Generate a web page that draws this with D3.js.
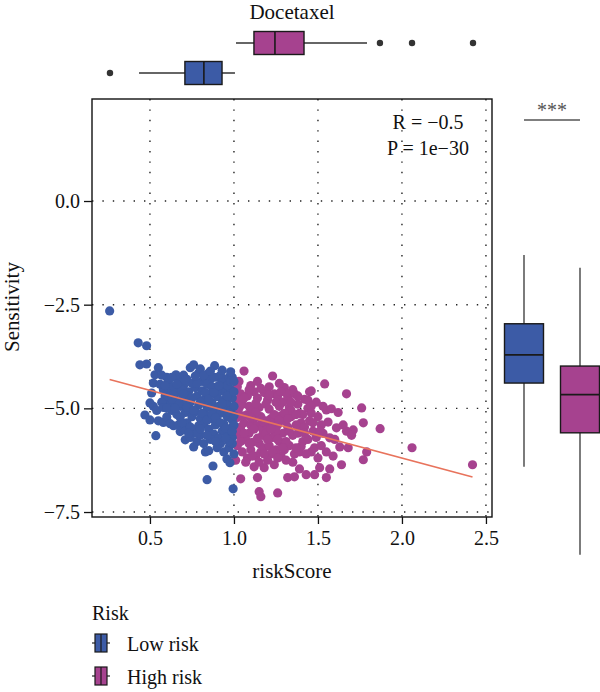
<!DOCTYPE html>
<html>
<head>
<meta charset="utf-8">
<script src="https://cdn.jsdelivr.net/npm/d3@7"></script>
<style>
  body { margin: 0; background: #fff; }
  svg text { font-family: "Liberation Serif", "DejaVu Serif", serif; fill: #111; }
</style>
</head>
<body>
<div id="chart"></div>
<script>
// ---- data ----
var drugName = "Docetaxel";
var riskGroups = ["Low risk", "High risk"];
var groupColors = ["#3C5BA6", "#A6428F"];

// scatter points [riskScore, sensitivity]
var lowRiskPoints = [
  [0.26,-2.65],[0.43,-3.42],[0.48,-3.49],[0.44,-3.95],[0.48,-3.93],
  [0.47,-5.16],[0.50,-5.28],[0.535,-5.66],[0.55,-5.30],[0.58,-5.34],
  [0.52,-4.95],[0.50,-4.87],[0.51,-4.63],[0.52,-4.39],[0.53,-4.19],[0.55,-4.02],[0.60,-4.25],
  [0.62,-4.55],[0.61,-4.80],[0.63,-5.05],[0.60,-5.21],[0.62,-5.37],[0.64,-5.42],[0.68,-5.56],[0.70,-5.50],
  [0.71,-5.76],[0.76,-5.93],[0.74,-5.70],[0.78,-5.80],[0.80,-5.65],[0.83,-6.05],[0.85,-6.02],[0.875,-6.39],
  [0.84,-6.72],[0.995,-6.94],[0.976,-6.31],[0.958,-6.22],[0.94,-6.05],[0.97,-5.95],[0.92,-5.85],
  [0.67,-4.35],[0.655,-4.19],[0.70,-4.20],[0.72,-4.30],[0.74,-4.02],[0.76,-3.95],[0.79,-4.15],[0.81,-4.35],
  [0.83,-4.25],[0.86,-4.30],[0.885,-3.97],[0.90,-4.25],[0.92,-4.20],[0.95,-4.32],[0.97,-4.25],[0.99,-4.25],
  [0.94,-4.45],[0.89,-4.50],[0.61,-4.36],
  [0.66,-4.62],[0.69,-4.78],[0.68,-4.95],[0.71,-5.10],[0.70,-4.45],[0.73,-4.60],[0.74,-4.85],[0.73,-5.02],
  [0.75,-5.20],[0.72,-5.35],[0.77,-4.50],[0.78,-4.70],[0.79,-4.92],[0.77,-5.08],[0.80,-5.25],[0.79,-5.42],
  [0.76,-5.52],[0.81,-4.58],[0.82,-4.80],[0.84,-4.98],[0.83,-5.15],[0.82,-5.38],[0.85,-5.50],[0.84,-4.42],
  [0.86,-4.65],[0.87,-4.88],[0.88,-5.05],[0.86,-5.25],[0.89,-5.40],[0.88,-5.62],[0.87,-4.48],
  [0.90,-4.72],[0.91,-4.95],[0.92,-5.12],[0.90,-5.30],[0.93,-5.55],[0.91,-5.72],[0.92,-4.58],
  [0.94,-4.80],[0.95,-5.00],[0.96,-5.20],[0.94,-5.38],[0.97,-5.62],[0.95,-4.62],[0.96,-4.90],
  [0.98,-4.55],[0.99,-4.75],[0.98,-5.05],[0.99,-5.28],[0.98,-5.48],[0.99,-5.70],[1.00,-4.95],
  [1.00,-5.40],[0.99,-5.85],[1.00,-6.10],
  [0.59,-4.70],[0.62,-4.95],[0.64,-4.48],[0.57,-4.85],[0.54,-5.05],[0.66,-5.15],[0.67,-5.40],[0.63,-4.25],
  [0.69,-4.55],[0.71,-4.90],[0.75,-4.40],[0.80,-4.05],[0.83,-4.62],[0.85,-4.15],[0.88,-4.25],[0.93,-4.38],
  [0.96,-4.45],[0.58,-4.55],[0.65,-4.80],[0.72,-4.70],[0.78,-5.60],[0.82,-5.85],[0.86,-5.75],[0.90,-5.95],
  [0.56,-4.42],[0.58,-4.98],[0.60,-5.00],[0.64,-4.68],[0.67,-4.88],[0.68,-5.22],[0.70,-4.65],[0.72,-4.98],
  [0.74,-5.45],[0.75,-4.75],[0.76,-5.05],[0.78,-4.40],[0.80,-4.85],[0.81,-5.12],[0.82,-4.20],[0.84,-5.28],
  [0.85,-4.78],[0.87,-5.15],[0.88,-4.62],[0.89,-5.22],[0.91,-4.45],[0.92,-5.35],[0.93,-4.88],[0.95,-5.48],
  [0.96,-4.70],[0.97,-5.10],[0.98,-4.35],[1.00,-4.60],[1.00,-5.18],[0.99,-5.55],[0.97,-5.80],[0.95,-5.72],
  [0.89,-5.80],[0.84,-5.65],[0.80,-5.50],[0.73,-5.60],[0.69,-5.35],[0.65,-5.00],[0.63,-4.78],[0.59,-4.45],
  [0.57,-4.20],[0.66,-4.42],[0.71,-4.32],[0.77,-4.22],[0.86,-4.10],[0.93,-4.08],[0.98,-4.12],[1.00,-4.35]
];

var highRiskPoints = [
  [1.06,-4.10],[1.23,-4.22],[1.21,-4.48],[1.02,-4.48],[1.10,-4.45],[1.14,-4.35],[1.30,-4.50],[1.35,-4.55],
  [1.45,-4.60],[1.46,-4.58],[1.54,-4.41],[1.67,-4.65],[1.27,-4.40],[1.04,-4.65],
  [1.02,-4.80],[1.03,-5.00],[1.02,-5.22],[1.04,-5.45],[1.03,-5.65],[1.02,-5.90],[1.05,-6.05],[1.04,-6.70],
  [1.05,-4.90],[1.06,-5.35],[1.01,-5.55],[1.01,-6.25],
  [1.08,-4.70],[1.09,-4.95],[1.08,-5.15],[1.10,-5.40],[1.09,-5.60],[1.11,-5.82],[1.10,-6.00],[1.12,-6.41],
  [1.08,-6.20],[1.12,-4.60],[1.11,-5.05],[1.12,-5.25],
  [1.14,-4.75],[1.15,-4.98],[1.16,-5.20],[1.14,-5.42],[1.17,-5.65],[1.15,-5.85],[1.16,-6.05],[1.18,-6.43],
  [1.14,-6.67],[1.15,-7.01],[1.16,-7.13],[1.18,-4.62],[1.17,-5.50],[1.18,-5.95],
  [1.20,-4.80],[1.21,-5.02],[1.22,-5.25],[1.20,-5.45],[1.23,-5.70],[1.21,-5.90],[1.22,-6.10],[1.24,-6.36],
  [1.26,-7.04],[1.24,-4.65],[1.23,-5.35],[1.20,-6.25],
  [1.26,-4.70],[1.27,-4.95],[1.28,-5.18],[1.26,-5.40],[1.29,-5.60],[1.27,-5.80],[1.30,-6.00],[1.28,-6.15],
  [1.32,-6.67],[1.30,-5.30],[1.29,-4.85],
  [1.32,-4.72],[1.33,-4.98],[1.34,-5.20],[1.32,-5.45],[1.35,-5.65],[1.33,-5.90],[1.36,-6.10],[1.36,-6.65],
  [1.34,-5.05],[1.36,-4.65],
  [1.38,-4.90],[1.39,-5.12],[1.40,-5.35],[1.38,-5.60],[1.41,-5.80],[1.39,-6.05],[1.39,-6.46],[1.43,-6.60],
  [1.42,-4.78],[1.40,-5.50],
  [1.44,-5.00],[1.46,-5.11],[1.45,-5.30],[1.47,-5.55],[1.44,-5.75],[1.48,-5.95],[1.46,-6.05],[1.48,-6.60],
  [1.50,-5.20],[1.49,-4.85],
  [1.51,-6.43],[1.55,-6.67],[1.57,-6.46],[1.55,-5.04],[1.58,-5.01],[1.56,-5.33],[1.61,-5.47],[1.57,-5.71],
  [1.60,-5.75],[1.53,-5.60],[1.52,-5.90],[1.55,-6.05],[1.59,-6.15],[1.52,-5.40],[1.53,-4.95],
  [1.63,-5.93],[1.64,-6.36],[1.68,-5.95],[1.71,-5.52],[1.76,-4.99],[1.77,-5.35],[1.77,-6.24],[1.79,-6.05],
  [1.67,-5.55],[1.65,-5.40],[1.70,-5.65],[1.62,-5.10],
  [1.87,-5.49],[2.06,-5.95],[2.42,-6.36],
  [1.06,-4.75],[1.13,-5.10],[1.19,-5.30],[1.25,-5.55],[1.31,-5.80],[1.37,-5.40],[1.07,-5.75],[1.13,-6.15],
  [1.25,-6.00],[1.31,-4.62],[1.41,-5.15],[1.19,-4.90],
  [1.03,-4.35],[1.05,-5.18],[1.06,-5.60],[1.07,-6.30],[1.09,-4.55],[1.10,-5.22],[1.11,-6.15],[1.13,-4.88],
  [1.14,-5.72],[1.16,-4.52],[1.17,-5.32],[1.18,-6.10],[1.19,-5.60],[1.21,-4.68],[1.22,-5.50],[1.23,-6.05],
  [1.24,-5.15],[1.25,-4.85],[1.26,-5.75],[1.27,-5.28],[1.28,-4.60],[1.29,-5.95],[1.30,-5.12],[1.31,-6.25],
  [1.33,-5.55],[1.34,-4.85],[1.35,-6.30],[1.37,-5.15],[1.38,-4.70],[1.40,-5.92],[1.42,-5.45],[1.43,-6.10],
  [1.44,-4.80],[1.47,-5.35],[1.49,-5.70],[1.50,-6.20],[1.01,-5.08],[1.04,-5.80],[1.09,-5.85],[1.12,-5.50],
  [1.15,-6.30],[1.20,-5.75],[1.26,-6.20],[1.32,-5.25],[1.37,-5.95],[1.42,-5.60],[1.46,-4.95],[1.51,-5.55]
];

// fitted regression line
var fitIntercept = -4.02;
var fitSlope = -1.09;
var corrLabels = ["R = \u22120.5", "P = 1e\u221230"];

// marginal boxplots: riskScore (top) and sensitivity (right)
var scoreBox = [
  {lo: 0.435, q1: 0.708, med: 0.821, q3: 0.929, hi: 1.006, out: [0.262]},
  {lo: 1.012, q1: 1.119, med: 1.244, q3: 1.417, hi: 1.792, out: [1.869, 2.06, 2.423]}
];
var sensBox = [
  {lo: -6.41, q1: -4.39, med: -3.71, q3: -2.96, hi: -1.30},
  {lo: -8.53, q1: -5.59, med: -4.67, q3: -3.98, hi: -1.61}
];
var sigLabel = "***";

var xTicks = [0.5, 1.0, 1.5, 2.0, 2.5];
var yTicks = [0.0, -2.5, -5.0, -7.5];

// ---- layout ----
var serif = "'Liberation Serif', 'DejaVu Serif', serif";
var margin = {top: 99, right: 108, bottom: 175, left: 92},
    width = 400,
    height = 418;

var svg = d3.select("#chart").append("svg")
    .attr("width", 600)
    .attr("height", 692)
    .style("font-family", serif);

var plot = svg.append("g")
    .attr("transform", "translate(" + margin.left + "," + margin.top + ")");

var x = d3.scaleLinear().domain([0.155, 2.536]).range([0, width]);
var y = d3.scaleLinear().domain([2.46, -7.62]).range([0, height]);

// dotted grid
plot.selectAll(".vgrid")
    .data(xTicks)
    .enter().append("line")
    .attr("x1", function(d) { return x(d); })
    .attr("x2", function(d) { return x(d); })
    .attr("y1", 0).attr("y2", height)
    .attr("stroke", "#222").attr("stroke-width", 1.4)
    .attr("stroke-dasharray", "1.4,9");

plot.selectAll(".hgrid")
    .data(yTicks)
    .enter().append("line")
    .attr("y1", function(d) { return y(d); })
    .attr("y2", function(d) { return y(d); })
    .attr("x1", 0).attr("x2", width)
    .attr("stroke", "#222").attr("stroke-width", 1.4)
    .attr("stroke-dasharray", "1.4,9");

// points: high risk first, low risk on top
var pointSets = [highRiskPoints, lowRiskPoints];
var pointColors = [groupColors[1], groupColors[0]];
pointSets.forEach(function(pts, i) {
    plot.append("g").selectAll("circle")
        .data(pts)
        .enter().append("circle")
        .attr("cx", function(d) { return x(d[0]); })
        .attr("cy", function(d) { return y(d[1]); })
        .attr("r", 4.6)
        .attr("fill", pointColors[i]);
});

// regression line over the range of riskScore
var allX = lowRiskPoints.concat(highRiskPoints).map(function(d) { return d[0]; });
var fitX = d3.extent(allX);
plot.append("line")
    .attr("x1", x(fitX[0])).attr("y1", y(fitIntercept + fitSlope * fitX[0]))
    .attr("x2", x(fitX[1])).attr("y2", y(fitIntercept + fitSlope * fitX[1]))
    .attr("stroke", "#E8735C").attr("stroke-width", 1.6);

// panel border
plot.append("rect")
    .attr("width", width).attr("height", height)
    .attr("fill", "none").attr("stroke", "#111").attr("stroke-width", 1.4);

// axes
var xAxis = plot.append("g")
    .attr("transform", "translate(0," + height + ")")
    .call(d3.axisBottom(x).tickValues(xTicks).tickFormat(d3.format(".1f")).tickSize(7).tickPadding(7));
var yAxis = plot.append("g")
    .call(d3.axisLeft(y).tickValues(yTicks).tickFormat(d3.format(".1f")).tickSize(8).tickPadding(4));
[xAxis, yAxis].forEach(function(ax) {
    ax.attr("font-family", serif).attr("font-size", 20);
    ax.select(".domain").remove();
    ax.selectAll("line").attr("stroke", "#111").attr("stroke-width", 1.3);
    ax.selectAll("text").attr("fill", "#111");
});

// axis titles
svg.append("text")
    .attr("x", margin.left + width / 2).attr("y", 578)
    .attr("text-anchor", "middle").style("font-size", "21px")
    .text("riskScore");
svg.append("text")
    .attr("transform", "translate(19," + 307 + ") rotate(-90)")
    .attr("text-anchor", "middle").style("font-size", "21px")
    .text("Sensitivity");

// correlation text
plot.selectAll(".corr")
    .data(corrLabels)
    .enter().append("text")
    .attr("x", 336).attr("y", function(d, i) { return 30 + i * 26; })
    .attr("text-anchor", "middle").style("font-size", "20px")
    .text(function(d) { return d; });

// top marginal boxplot
var topY = d3.scalePoint().domain(riskGroups).range([73, 43]);
var topH = 23;
svg.append("text")
    .attr("x", margin.left + width / 2).attr("y", 19)
    .attr("text-anchor", "middle").style("font-size", "21px")
    .text(drugName);

scoreBox.forEach(function(b, i) {
    var g = svg.append("g").attr("transform", "translate(" + margin.left + ",0)");
    var cy = topY(riskGroups[i]);
    g.append("line")
        .attr("x1", x(b.lo)).attr("x2", x(b.hi))
        .attr("y1", cy).attr("y2", cy)
        .attr("stroke", "#333").attr("stroke-width", 1.3);
    g.append("rect")
        .attr("x", x(b.q1)).attr("width", x(b.q3) - x(b.q1))
        .attr("y", cy - topH / 2).attr("height", topH)
        .attr("fill", groupColors[i]).attr("stroke", "#1a1a1a").attr("stroke-width", 1.4);
    g.append("line")
        .attr("x1", x(b.med)).attr("x2", x(b.med))
        .attr("y1", cy - topH / 2).attr("y2", cy + topH / 2)
        .attr("stroke", "#1a1a1a").attr("stroke-width", 1.6);
    g.selectAll(".out")
        .data(b.out)
        .enter().append("circle")
        .attr("cx", function(d) { return x(d); })
        .attr("cy", cy).attr("r", 3.2)
        .attr("fill", "#333");
});

// right marginal boxplot
var rightX = d3.scalePoint().domain(riskGroups).range([524, 580]);
var rightW = 39;
sensBox.forEach(function(b, i) {
    var g = svg.append("g").attr("transform", "translate(0," + margin.top + ")");
    var cx = rightX(riskGroups[i]);
    g.append("line")
        .attr("x1", cx).attr("x2", cx)
        .attr("y1", y(b.hi)).attr("y2", y(b.lo))
        .attr("stroke", "#444").attr("stroke-width", 1.4);
    g.append("rect")
        .attr("x", cx - rightW / 2).attr("width", rightW)
        .attr("y", y(b.q3)).attr("height", y(b.q1) - y(b.q3))
        .attr("fill", groupColors[i]).attr("stroke", "#1a1a1a").attr("stroke-width", 1.4);
    g.append("line")
        .attr("x1", cx - rightW / 2).attr("x2", cx + rightW / 2)
        .attr("y1", y(b.med)).attr("y2", y(b.med))
        .attr("stroke", "#1a1a1a").attr("stroke-width", 1.6);
});

// significance
svg.append("line")
    .attr("x1", rightX(riskGroups[0])).attr("x2", rightX(riskGroups[1]))
    .attr("y1", 120).attr("y2", 120)
    .attr("stroke", "#555").attr("stroke-width", 1.4);
svg.append("text")
    .attr("x", (rightX(riskGroups[0]) + rightX(riskGroups[1])) / 2).attr("y", 117)
    .attr("text-anchor", "middle").style("font-size", "20px")
    .style("fill", "#555")
    .text(sigLabel);

// legend
var legend = svg.append("g").attr("transform", "translate(92,0)");
legend.append("text")
    .attr("x", 0).attr("y", 620)
    .style("font-size", "20px")
    .text("Risk");
var legY = d3.scalePoint().domain(riskGroups).range([643, 676]);
riskGroups.forEach(function(grp, i) {
    var cy = legY(grp);
    legend.append("line")
        .attr("x1", 0).attr("x2", 18).attr("y1", cy).attr("y2", cy)
        .attr("stroke", "#333").attr("stroke-width", 1.3);
    legend.append("rect")
        .attr("x", 3).attr("y", cy - 9).attr("width", 12).attr("height", 18)
        .attr("fill", groupColors[i]).attr("stroke", "#1a1a1a").attr("stroke-width", 1.2);
    legend.append("line")
        .attr("x1", 9).attr("x2", 9).attr("y1", cy - 9).attr("y2", cy + 9)
        .attr("stroke", "#1a1a1a").attr("stroke-width", 1.2);
    legend.append("text")
        .attr("x", 35).attr("y", cy + 8)
        .style("font-size", "20px")
        .text(grp);
});
</script>
</body>
</html>
